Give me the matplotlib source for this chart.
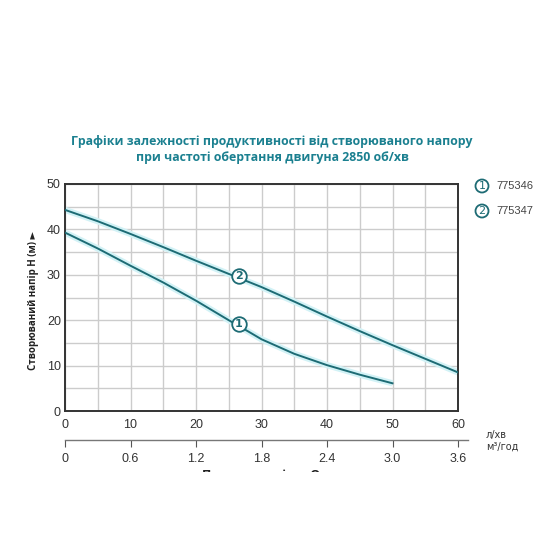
import matplotlib
matplotlib.use("Agg")
import matplotlib.pyplot as plt
from matplotlib.patches import Rectangle

# ---- data ----
flow_1 = [0, 5, 10, 15, 20, 25, 28, 30, 35, 40, 45, 50]
head_1 = [39.3, 35.8, 32.0, 28.3, 24.3, 20.0, 17.5, 15.8, 12.6, 10.1, 8.0, 6.1]
flow_2 = [0, 5, 10, 15, 20, 25, 30, 35, 40, 45, 50, 55, 60]
head_2 = [44.3, 41.8, 39.0, 36.1, 33.1, 30.2, 27.3, 24.1, 20.8, 17.6, 14.5, 11.5, 8.5]
lpm_ticks = [0, 10, 20, 30, 40, 50, 60]
m3h_labels = ["0", "0.6", "1.2", "1.8", "2.4", "3.0", "3.6"]
y_ticks = [0, 10, 20, 30, 40, 50]
models = ["775346", "775347"]
marker_pos = [(26.5, 19.2), (26.5, 29.7)]

TEAL = "#1d6b74"
TITLE = "#1b8090"
GLOW = "#d2f2f6"

fig = plt.figure(figsize=(5.6, 5.6), dpi=100)
W = H = 560.0
def fx(px): return px / W
def fy(py): return 1 - py / H

L, R, T, B = 65, 458, 184, 411
ax = fig.add_axes([fx(L), fy(B), (R - L) / W, (B - T) / H])
ax.set_xlim(0, 60)
ax.set_ylim(0, 50)
ax.set_xticks(lpm_ticks, [str(v) for v in lpm_ticks])
ax.set_xticks(range(0, 61, 5), minor=True)
ax.set_yticks(y_ticks, [str(v) for v in y_ticks])
ax.set_yticks(range(0, 51, 5), minor=True)
ax.grid(True, which="both", color="#cccccc", lw=1.0)
ax.set_axisbelow(True)
ax.tick_params(which="both", length=0, labelsize=9, labelcolor="#333333", pad=6)
ax.tick_params(axis="y", pad=3)
for s in ax.spines.values():
    s.set_color("#333333")
    s.set_linewidth(1.4)
for lab in ax.get_xticklabels() + ax.get_yticklabels():
    lab.set_family("Liberation Sans")

for fl, hd in ((flow_1, head_1), (flow_2, head_2)):
    ax.plot(fl, hd, color=GLOW, lw=4.5, solid_capstyle="butt", zorder=2)
    ax.plot(fl, hd, color=TEAL, lw=1.4, zorder=3)

for i, (mx, my) in enumerate(marker_pos):
    ax.scatter([mx], [my], s=110, facecolor="white", edgecolor=TEAL, lw=1.3, zorder=4)
    ax.text(mx, my, str(i + 1), ha="center", va="center", color=TEAL,
            fontsize=8, fontweight="bold", zorder=5)

# secondary flow axis (m3/h)
ax2 = fig.add_axes([fx(L), fy(440.5), (468 - L) / W, 0.0001])
ax2.set_xlim(0, 3.6 * (468 - L) / (R - L))
ax2.set_ylim(0, 1)
for k in ("left", "right", "bottom"):
    ax2.spines[k].set_visible(False)
ax2.spines["top"].set_color("#777777")
ax2.spines["top"].set_linewidth(1.0)
ax2.set_yticks([])
ax2.xaxis.set_ticks_position("top")
ax2.set_xticks([v * 0.06 for v in lpm_ticks], m3h_labels)
ax2.tick_params(axis="x", direction="in", length=5, color="#555555",
                labelsize=9, labelcolor="#333333", labeltop=False, labelbottom=True, pad=9)
for lab in ax2.get_xticklabels():
    lab.set_family("Liberation Sans")
ax2.patch.set_visible(False)

# unit labels
fig.text(fx(486), fy(435), "л/хв", fontsize=7, color="#333333", va="center", ha="left")
fig.text(fx(486), fy(447), "м³/год", fontsize=7, color="#333333", va="center", ha="left")

# title
fig.text(fx(272), fy(142), "Графіки залежності продуктивності від створюваного напору",
         fontsize=8.9, fontweight="bold", color=TITLE, ha="center", va="center",
         family="Open Sans")
fig.text(fx(272), fy(157), "при частоті обертання двигуна 2850 об/хв",
         fontsize=8.9, fontweight="bold", color=TITLE, ha="center", va="center",
         family="Open Sans")

# y label
fig.text(fx(33), fy(300), "Створюваний напір H (м) ►", rotation=90, fontsize=7,
         fontweight="bold", ha="center", va="center", color="#222222",
         family=["Open Sans", "DejaVu Sans"])

# legend
for i, (m, py) in enumerate(zip(models, [186, 211])):
    fig.patches.append(plt.Circle((fx(482), fy(py)), 6.5 / W, transform=fig.transFigure,
                                  facecolor="white", edgecolor=TEAL, lw=1.3))
    fig.text(fx(482), fy(py), str(i + 1), ha="center", va="center", fontsize=8,
             color=TEAL)
    fig.text(fx(496), fy(py), m, ha="left", va="center", fontsize=8,
             color="#444444", family="Liberation Sans")

# x label (clipped as in the reference)
fig.text(fx(268), fy(476), "Продуктивність Q ►", fontsize=9, fontweight="bold",
         ha="center", va="center", color="#222222", family=["Open Sans", "DejaVu Sans"])
fig.patches.append(Rectangle((0, 0), 1, 1 - 472 / H, transform=fig.transFigure,
                             facecolor="white", edgecolor="none", zorder=10))

fig.savefig("out.png", dpi=100, facecolor="white")
